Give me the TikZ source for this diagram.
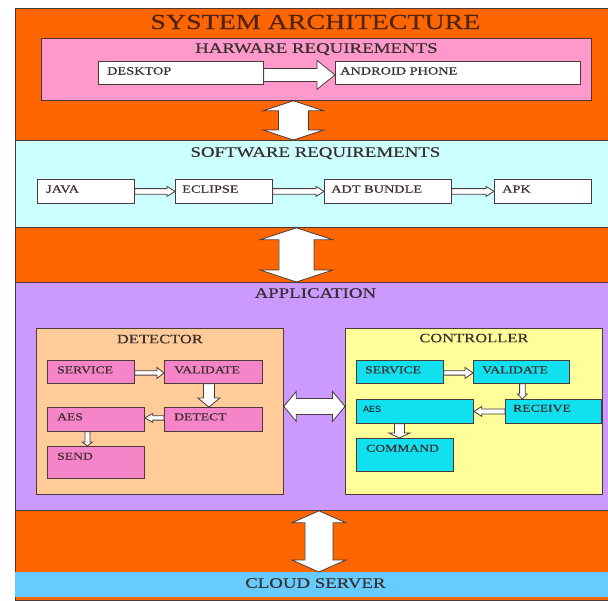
\documentclass[tikz,border=0pt]{standalone}
\usepackage{fontspec}
\setmainfont[FakeStretch=1.3, FakeBold=0.4]{Liberation Serif}
\newfontfamily\aesfont{Liberation Sans}
\usetikzlibrary{calc}

\definecolor{slideorange}{HTML}{FF6600}
\definecolor{hwpink}{HTML}{FF99CC}
\definecolor{swcyan}{HTML}{CCFFFF}
\definecolor{apppurple}{HTML}{CC99FF}
\definecolor{detpeach}{HTML}{FFCC99}
\definecolor{ctlyellow}{HTML}{FFFF99}
\definecolor{boxpink}{HTML}{F684C8}
\definecolor{boxcyan}{HTML}{11E1EE}
\definecolor{cloudblue}{HTML}{66CCFF}
\definecolor{edge}{HTML}{4A3A3A}
\definecolor{ink}{HTML}{3A2E2E}
\definecolor{titleink}{HTML}{4D2416}

% block arrow: from, to, shaft half width, head half width, head length
\newcommand\blockarrow[5]{%
  \path coordinate (ba-s) at #1 coordinate (ba-t) at #2;
  \coordinate (ba-h) at ($(ba-t)!#5!(ba-s)$);
  \filldraw[fat] ($(ba-s)!#3!90:(ba-t)$) -- ($(ba-h)!#3!90:(ba-t)$)
    -- ($(ba-h)!#4!90:(ba-t)$) -- (ba-t) -- ($(ba-h)!#4!-90:(ba-t)$)
    -- ($(ba-h)!#3!-90:(ba-t)$) -- ($(ba-s)!#3!-90:(ba-t)$) -- cycle;}
% same, with a head at both ends
\newcommand\blockdarrow[5]{%
  \path coordinate (ba-s) at #1 coordinate (ba-t) at #2;
  \coordinate (ba-h) at ($(ba-t)!#5!(ba-s)$);
  \coordinate (ba-g) at ($(ba-s)!#5!(ba-t)$);
  \filldraw[fat] (ba-s) -- ($(ba-g)!#4!90:(ba-t)$) -- ($(ba-g)!#3!90:(ba-t)$)
    -- ($(ba-h)!#3!90:(ba-t)$) -- ($(ba-h)!#4!90:(ba-t)$) -- (ba-t)
    -- ($(ba-h)!#4!-90:(ba-t)$) -- ($(ba-h)!#3!-90:(ba-t)$)
    -- ($(ba-g)!#3!-90:(ba-t)$) -- ($(ba-g)!#4!-90:(ba-t)$) -- cycle;}

\begin{document}
\begin{tikzpicture}[
  x=1pt, y=-1pt,
  band/.style={draw=edge, line width=0.8pt, anchor=north west, inner sep=0pt},
  box/.style={band},
  title/.style={anchor=base, inner sep=0pt, text=titleink, font=\fontsize{21.5}{24}\selectfont},
  head/.style={anchor=base, inner sep=0pt, text=ink, font=\fontsize{14.5}{16}\selectfont},
  subhead/.style={head, font=\fontsize{12.7}{14}\selectfont},
  tag/.style={anchor=base west, inner sep=0pt, text=ink, font=\fontsize{11}{13}\selectfont},
  smalltag/.style={tag, font=\fontsize{10.5}{12}\selectfont},
  fat/.style={fill=white, draw=edge, line width=0.8pt, line join=miter}
]
\useasboundingbox (0,0) rectangle (608,600);
\fill[white] (0,0) rectangle (608,600);

% background and title
\node[band, fill=slideorange, minimum width=600, minimum height=592] (sys) at (15,8) {};
\node[title] (sys-t) at ([yshift=-21pt]sys.north) {SYSTEM ARCHITECTURE};

% hardware
\node[band, fill=hwpink, minimum width=550, minimum height=62] (hw) at (41,38) {};
\node[head] (hw-t) at ([yshift=-14.8pt]hw.north) {HARWARE REQUIREMENTS};
\node[box, fill=white, minimum width=165, minimum height=23] (desk) at (98,61) {};
\node[box, fill=white, minimum width=245, minimum height=23] (phone) at (335,61) {};
\node[tag] (desk-t) at ([shift={(9pt,-13.5pt)}]desk.north west) {DESKTOP};
\node[tag] (phone-t) at ([shift={(5pt,-13.5pt)}]phone.north west) {ANDROID PHONE};

% software
\node[band, fill=swcyan, minimum width=600, minimum height=87] (sw) at (15,140) {};
\node[head] (sw-t) at ([yshift=-16.8pt]sw.north) {SOFTWARE REQUIREMENTS};
\node[box, fill=white, minimum width=97, minimum height=24] (java) at (37,179) {};
\node[box, fill=white, minimum width=97, minimum height=24] (eclipse) at (175,179) {};
\node[box, fill=white, minimum width=127, minimum height=24] (adt) at (324,179) {};
\node[box, fill=white, minimum width=97, minimum height=24] (apk) at (494,179) {};
\node[tag] (java-t) at ([shift={(9pt,-13.7pt)}]java.north west) {JAVA};
\node[tag] (eclipse-t) at ([shift={(7pt,-13.7pt)}]eclipse.north west) {ECLIPSE};
\node[tag] (adt-t) at ([shift={(7pt,-13.7pt)}]adt.north west) {ADT BUNDLE};
\node[tag] (apk-t) at ([shift={(8pt,-13.7pt)}]apk.north west) {APK};

% application
\node[band, fill=apppurple, minimum width=600, minimum height=228] (app) at (15,282) {};
\node[head] (app-t) at ([yshift=-15.8pt]app.north) {APPLICATION};

\node[box, fill=detpeach, minimum width=247, minimum height=166] (det) at (36,328) {};
\node[subhead] (det-t) at ([yshift=-15.2pt]det.north) {DETECTOR};
\node[box, fill=boxpink, minimum width=87, minimum height=23] (dsvc) at (47,360) {};
\node[box, fill=boxpink, minimum width=98, minimum height=23] (dval) at (164,360) {};
\node[box, fill=boxpink, minimum width=98, minimum height=24] (ddet) at (164,407) {};
\node[box, fill=boxpink, minimum width=97, minimum height=24] (daes) at (47,407) {};
\node[box, fill=boxpink, minimum width=97, minimum height=32] (dsend) at (47,446) {};
\node[smalltag] (dsvc-t) at ([shift={(10pt,-13.3pt)}]dsvc.north west) {SERVICE};
\node[smalltag] (dval-t) at ([shift={(10pt,-13.3pt)}]dval.north west) {VALIDATE};
\node[smalltag] (ddet-t) at ([shift={(10pt,-13.3pt)}]ddet.north west) {DETECT};
\node[smalltag] (daes-t) at ([shift={(10pt,-13.3pt)}]daes.north west) {AES};
\node[smalltag] (dsend-t) at ([shift={(10pt,-13.7pt)}]dsend.north west) {SEND};

\node[box, fill=ctlyellow, minimum width=257, minimum height=166] (ctl) at (345,328) {};
\node[subhead] (ctl-t) at ([yshift=-14.2pt]ctl.north) {CONTROLLER};
\node[box, fill=boxcyan, minimum width=87, minimum height=23] (csvc) at (356,360) {};
\node[box, fill=boxcyan, minimum width=96, minimum height=23] (cval) at (473,360) {};
\node[box, fill=boxcyan, minimum width=96, minimum height=24] (crecv) at (505,399) {};
\node[box, fill=boxcyan, minimum width=117, minimum height=24] (caes) at (356,399) {};
\node[box, fill=boxcyan, minimum width=97, minimum height=33] (ccmd) at (356,438) {};
\node[smalltag] (csvc-t) at ([shift={(9pt,-13.3pt)}]csvc.north west) {SERVICE};
\node[smalltag] (cval-t) at ([shift={(9pt,-13.3pt)}]cval.north west) {VALIDATE};
\node[smalltag] (crecv-t) at ([shift={(8pt,-12.7pt)}]crecv.north west) {RECEIVE};
\node[tag, font=\aesfont\fontsize{9}{11}\selectfont, text=black] (caes-t) at ([shift={(7pt,-13.3pt)}]caes.north west) {AES};
\node[smalltag] (ccmd-t) at ([shift={(10pt,-13.7pt)}]ccmd.north west) {COMMAND};

% cloud
\node[band, draw=none, fill=cloudblue, minimum width=600, minimum height=25] (cloud) at (15,572) {};
\node[head] (cloud-t) at ([yshift=-15.8pt]cloud.north) {CLOUD SERVER};

% block arrows
\blockarrow{($(desk.east)+(0,2)$)}{($(phone.west)+(0,2)$)}{6.5pt}{14.5pt}{18pt}
\blockdarrow{($(hw.south)+(-23,0)$)}{($(hw.south |- sw.north)+(-23,0)$)}{15pt}{30.5pt}{10pt}
\blockarrow{(java.east)}{(eclipse.west)}{2.8pt}{5pt}{8pt}
\blockarrow{(eclipse.east)}{(adt.west)}{2.8pt}{5pt}{8pt}
\blockarrow{(adt.east)}{(apk.west)}{2.8pt}{5pt}{8pt}
\blockdarrow{($(sw.south)+(-19,0)$)}{($(app.north)+(-19,0)$)}{17.5pt}{36.5pt}{12pt}

\blockarrow{($(dsvc.east)+(0,1)$)}{($(dsvc.east -| dval.west)+(0,1)$)}{2.2pt}{5.5pt}{7pt}
\blockarrow{($(dval.south)+(-4.5,0)$)}{($(ddet.north)+(-4.5,0)$)}{5.5pt}{11pt}{9pt}
\blockarrow{($(ddet.west)+(0,-1.5)$)}{($(daes.east)+(0,-1.5)$)}{2.2pt}{4.5pt}{8pt}
\blockarrow{($(daes.south)+(-8.5,0)$)}{($(dsend.north)+(-8.5,0)$)}{2.5pt}{5pt}{4pt}

\blockarrow{($(csvc.east)+(0,1)$)}{($(csvc.east -| cval.west)+(0,1)$)}{2.2pt}{5.5pt}{8pt}
\blockarrow{($(cval.south)+(1,0)$)}{($(cval.south |- crecv.north)+(1,0)$)}{2.8pt}{5pt}{5pt}
\blockarrow{(crecv.west)}{(crecv.west -| caes.east)}{2.5pt}{5pt}{8pt}
\blockarrow{($(caes.south -| ccmd.north)+(-5.5,0)$)}{($(ccmd.north)+(-5.5,0)$)}{5pt}{10.5pt}{5pt}

\blockdarrow{($(det.east)+(0,-5)$)}{($(ctl.west)+(0,-5)$)}{8pt}{15pt}{12.5pt}
\blockdarrow{($(app.south)+(3.5,0)$)}{($(cloud.north)+(3.5,0)$)}{14pt}{27pt}{12pt}
\end{tikzpicture}
\end{document}
